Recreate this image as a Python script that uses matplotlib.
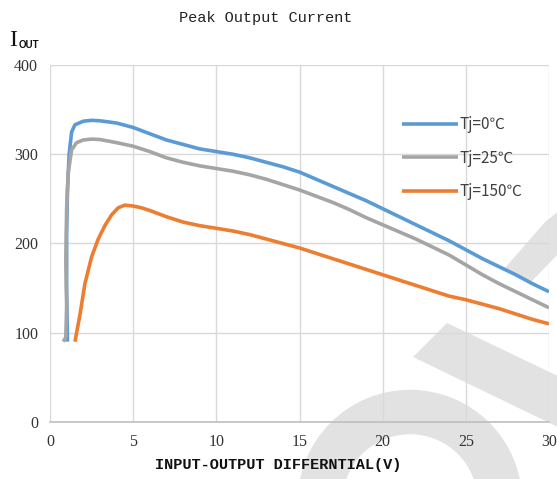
import matplotlib.pyplot as plt
from matplotlib.patches import Arc, Polygon

# measured peak output current (mA) vs input-output differential (V)
v_0c = [1.05, 1.0, 1.0, 1.05, 1.15, 1.3, 1.5, 2.0, 2.5, 3.0, 4.0, 5.0, 6.0, 7.0, 8.0, 9.0,
        10, 11, 12, 13, 14, 15, 16, 17, 18, 19, 20, 21, 22, 23, 24, 25, 26, 27, 28, 29, 30]
i_0c = [90, 150, 210, 260, 300, 325, 333, 337, 338, 337.5, 335, 330, 323, 316, 311, 306,
        303, 300, 296, 291, 286, 280, 272, 264, 256, 248, 239, 230, 221, 212, 203, 193,
        183, 174, 165, 155, 146]

v_25c = [0.8, 0.95, 1.0, 0.95, 1.0, 1.1, 1.3, 1.6, 2.0, 2.5, 3.0, 4.0, 5.0, 6.0, 7.0, 8.0, 9.0,
         10, 11, 12, 13, 14, 15, 16, 17, 18, 19, 20, 21, 22, 23, 24, 25, 26, 27, 28, 29, 30]
i_25c = [90, 95, 130, 180, 240, 280, 305, 313, 316, 317, 316.5, 313, 309, 303, 296, 291, 287,
         284, 281, 277, 272, 266, 260, 253, 246, 238, 229, 221, 213, 205, 196, 187, 176,
         165, 155, 146, 137, 128]

v_150c = [1.5, 1.8, 2.1, 2.5, 2.9, 3.3, 3.7, 4.1, 4.5, 5.0, 5.5, 6, 7, 8, 9, 10, 11, 12, 13,
          14, 15, 16, 17, 18, 19, 20, 21, 22, 23, 24, 25, 26, 27, 28, 29, 30]
i_150c = [90, 120, 155, 185, 205, 220, 232, 240, 243, 242, 240, 237, 230, 224, 220, 217, 214,
          210, 205, 200, 195, 189, 183, 177, 171, 165, 159, 153, 147, 141, 137, 132, 127,
          121, 115, 110]

labels = ['Tj=0℃', 'Tj=25℃', 'Tj=150℃']
colors = ['#5B9BD5', '#A5A5A5', '#ED7D31']

W, H = 557, 479
fig = plt.figure(figsize=(W / 100, H / 100), dpi=100)
ax = fig.add_axes([50 / W, 1 - 422 / H, 499 / W, 357 / H])
ax.patch.set_alpha(0)

# faint background watermark, in pixel positions from the top-left corner
wm = '#e2e2e2'


def px(x, y):
    return (x / W, 1 - y / H)


fig.patches.append(Arc(px(410, 502), 180 / W, 180 / H, theta1=0, theta2=180,
                       transform=fig.transFigure, color=wm, lw=32, zorder=-1))
for pts in [[(413, 357), (447, 323), (560, 377), (560, 428)],
            [(505, 268), (545, 222), (560, 210), (560, 252), (530, 283)]]:
    fig.patches.append(Polygon([px(*p) for p in pts], closed=True, transform=fig.transFigure,
                               facecolor=wm, edgecolor='none', zorder=-1))

for v, i, lab, c in zip([v_0c, v_25c, v_150c], [i_0c, i_25c, i_150c], labels, colors):
    ax.plot(v, i, color=c, lw=2.6, label=lab, solid_capstyle='butt', zorder=3)

ax.set_xlim(0, 30)
ax.set_ylim(0, 400)
ax.set_xticks(range(0, 31, 5))
ax.set_yticks(range(0, 401, 100))
ax.grid(True, color='#d9d9d9', lw=1.0)
for s in ['top', 'right', 'left']:
    ax.spines[s].set_visible(False)
ax.spines['bottom'].set_color('#bfbfbf')
ax.spines['bottom'].set_linewidth(1.2)
ax.tick_params(length=0, labelsize=11.5, colors='#333333', pad=8.5)
for t in ax.get_xticklabels() + ax.get_yticklabels():
    t.set_family('Liberation Serif')

fig.text(266 / W, 1 - 18 / H, 'Peak Output Current', ha='center', va='center',
         family='Liberation Mono', fontsize=11, color='#222222')
fig.text(9 / W, 1 - 41 / H, 'I', ha='left', va='center', family='Liberation Serif',
         fontsize=17, color='#111111')
fig.text(19 / W, 1 - 45 / H, 'OUT', ha='left', va='center',
         family=['Liberation Sans Narrow', 'Liberation Sans'],
         fontsize=7, fontweight='bold', color='#111111')
fig.text(278 / W, 1 - 465 / H, 'INPUT-OUTPUT DIFFERNTIAL(V)', ha='center', va='center',
         family='Liberation Mono', fontsize=11, fontweight='bold', color='#111111')

leg = ax.legend(loc='upper left', bbox_to_anchor=(0.705, 0.857), frameon=False,
                handlelength=3.66, handletextpad=0.1, labelspacing=1.09, borderpad=0,
                borderaxespad=0,
                prop={'family': ['Noto Sans CJK SC', 'DejaVu Sans'], 'size': 11})
for t in leg.get_texts():
    t.set_color('#404040')

fig.savefig('out.png', dpi=100)
